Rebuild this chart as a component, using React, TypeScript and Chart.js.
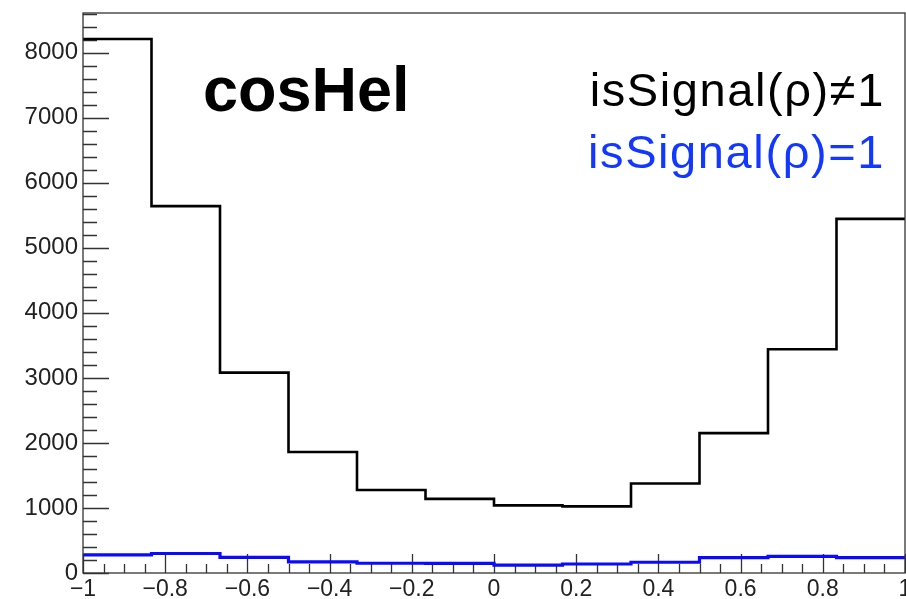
import React, { useEffect, useRef } from "react";
import { Chart, registerables } from "chart.js";

Chart.register(...registerables);

// cosHel histogram: 12 equal bins on [-1, 1]
const binLow = -1;
const binHigh = 1;
const binCount = 12;

// entries per bin
const notSignalCounts = [8210, 5640, 3080, 1860, 1275, 1140, 1040, 1025, 1375, 2150, 3440, 5445];
const signalCounts = [280, 300, 240, 170, 150, 148, 120, 138, 165, 235, 255, 235];

// axis labelling
const xTickValues = [-1, -0.8, -0.6, -0.4, -0.2, 0, 0.2, 0.4, 0.6, 0.8, 1];
const yTickValues = [0, 1000, 2000, 3000, 4000, 5000, 6000, 7000, 8000];
const yMax = 8610;

const titleText = "cosHel";
const legendLabels = ["isSignal(\u03C1)\u22601", "isSignal(\u03C1)=1"];
const legendColors = ["#000000", "#1238ff"];

const FONT = "'Liberation Sans', Arial, Helvetica, sans-serif";

// histogram outline: each bin contributes its left and right corner at the bin height
function outline(counts: number[]) {
  const width = (binHigh - binLow) / binCount;
  const pts: { x: number; y: number }[] = [];
  counts.forEach((v, i) => {
    pts.push({ x: binLow + i * width, y: v });
    pts.push({ x: binLow + (i + 1) * width, y: v });
  });
  return pts;
}

const fmt = (v: number) => {
  const s = Math.abs(v) < 1e-9 ? "0" : String(Math.round(v * 10) / 10);
  return s.replace("-", "\u2212");
};

// frame, inward ticks (major + minor) and the text overlays
const rootStylePlugin = {
  id: "rootStyle",
  beforeDatasetsDraw(chart: any) {
    const { ctx, chartArea, scales } = chart;
    const x = scales.x;
    const y = scales.y;
    ctx.save();
    ctx.strokeStyle = "#333";
    ctx.lineWidth = 1.3;
    ctx.beginPath();
    // x ticks: major every 0.2, minor every 0.05
    for (let k = 0; k <= 40; k++) {
      const v = binLow + k * 0.05;
      const px = Math.round(x.getPixelForValue(v)) + 0.5;
      const len = k % 4 === 0 ? 19 : 9;
      ctx.moveTo(px, chartArea.bottom);
      ctx.lineTo(px, chartArea.bottom - len);
    }
    // y ticks: major every 1000, minor every 200
    for (let k = 0; k * 200 <= yMax; k++) {
      const v = k * 200;
      const py = Math.round(y.getPixelForValue(v)) + 0.5;
      const len = k % 5 === 0 ? 26 : 14;
      ctx.moveTo(chartArea.left, py);
      ctx.lineTo(chartArea.left + len, py);
    }
    ctx.stroke();
    ctx.restore();
  },
  afterDraw(chart: any) {
    const { ctx, chartArea } = chart;
    ctx.save();
    ctx.strokeStyle = "#333";
    ctx.lineWidth = 1.3;
    ctx.strokeRect(chartArea.left, chartArea.top, chartArea.right - chartArea.left, chartArea.bottom - chartArea.top);

    ctx.textBaseline = "alphabetic";
    ctx.fillStyle = "#000";
    ctx.textAlign = "left";
    ctx.font = `bold 63px ${FONT}`;
    ctx.fillText(titleText, 203, 111);

    ctx.font = `47px ${FONT}`;
    ctx.textAlign = "right";
    if ("letterSpacing" in ctx) (ctx as any).letterSpacing = "1.6px";
    legendLabels.forEach((t, i) => {
      ctx.fillStyle = legendColors[i];
      ctx.fillText(t, 885, 106 + i * 62);
    });
    ctx.restore();
  },
};

export default function App() {
  const canvasRef = useRef<HTMLCanvasElement | null>(null);

  useEffect(() => {
    document.body.style.margin = "0";
    const canvas = canvasRef.current;
    if (!canvas) return;
    const chart = new Chart(canvas, {
      type: "line",
      data: {
        datasets: [
          {
            label: legendLabels[0],
            data: outline(notSignalCounts),
            borderColor: "#000000",
            borderWidth: 2.6,
            pointRadius: 0,
            fill: false,
          },
          {
            label: legendLabels[1],
            data: outline(signalCounts),
            borderColor: "#0a0aff",
            borderWidth: 3.2,
            pointRadius: 0,
            fill: false,
          },
        ],
      },
      options: {
        animation: false,
        responsive: false,
        devicePixelRatio: 1,
        layout: { padding: { top: 13, right: 1, left: 0, bottom: 0 } },
        plugins: { legend: { display: false }, tooltip: { enabled: false }, title: { display: false } },
        scales: {
          x: {
            type: "linear",
            min: binLow,
            max: binHigh,
            grid: { display: false, drawTicks: false },
            border: { display: false },
            afterBuildTicks: (scale: any) => {
              scale.ticks = xTickValues.map((v) => ({ value: v }));
            },
            afterFit: (scale: any) => {
              scale.height = 26;
              scale.paddingLeft = 0;
              scale.paddingRight = 0;
            },
            ticks: {
              autoSkip: false,
              maxRotation: 0,
              padding: 3,
              color: "#222",
              font: { family: FONT, size: 23 },
              callback: (v: any) => fmt(Number(v)),
            },
          },
          y: {
            type: "linear",
            min: 0,
            max: yMax,
            grid: { display: false, drawTicks: false },
            border: { display: false },
            afterBuildTicks: (scale: any) => {
              scale.ticks = yTickValues.map((v) => ({ value: v }));
            },
            afterFit: (scale: any) => {
              scale.width = 83;
              scale.paddingTop = 0;
              scale.paddingBottom = 0;
            },
            ticks: {
              autoSkip: false,
              padding: 5,
              color: "#222",
              font: { family: FONT, size: 24 },
              callback: (v: any) => String(v),
            },
          },
        },
      },
      plugins: [rootStylePlugin],
    });
    return () => chart.destroy();
  }, []);

  return <canvas ref={canvasRef} width={906} height={599} style={{ display: "block" }} />;
}
